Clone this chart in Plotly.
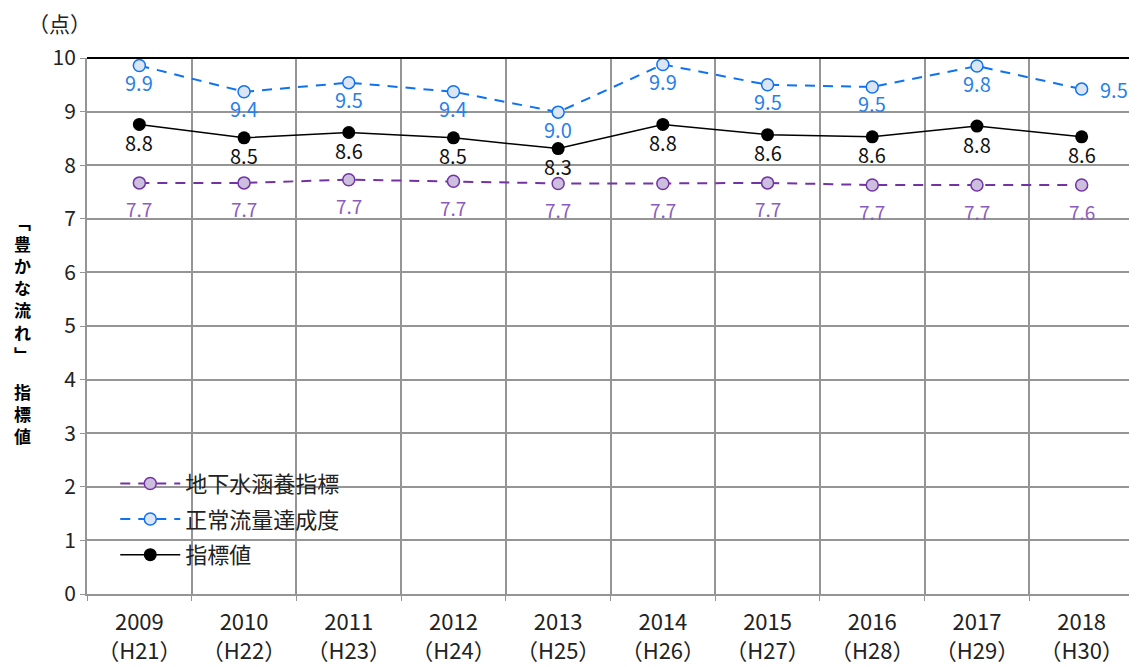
import plotly.graph_objects as go

years = ["2009", "2010", "2011", "2012", "2013", "2014", "2015", "2016", "2017", "2018"]
eras = ["H21", "H22", "H23", "H24", "H25", "H26", "H27", "H28", "H29", "H30"]
categories = [f"{y}<br>（{e}）" for y, e in zip(years, eras)]

groundwater = [7.67, 7.67, 7.73, 7.70, 7.66, 7.66, 7.67, 7.63, 7.63, 7.63]
groundwater_labels = ["7.7", "7.7", "7.7", "7.7", "7.7", "7.7", "7.7", "7.7", "7.7", "7.6"]
flow = [9.86, 9.37, 9.54, 9.37, 8.99, 9.88, 9.50, 9.46, 9.85, 9.42]
flow_labels = ["9.9", "9.4", "9.5", "9.4", "9.0", "9.9", "9.5", "9.5", "9.8", "9.5"]
index = [8.76, 8.51, 8.61, 8.51, 8.31, 8.76, 8.57, 8.53, 8.73, 8.53]
index_labels = ["8.8", "8.5", "8.6", "8.5", "8.3", "8.8", "8.6", "8.6", "8.8", "8.6"]

series_names = ["地下水涵養指標", "正常流量達成度", "指標値"]
y_title_top = "﹁豊かな流れ﹂"
y_title_bottom = "指標値"
unit_label = "（点）"

FONT = "Noto Sans CJK JP, Noto Sans, sans-serif"
PURPLE = "#7332a6"
PURPLE_TXT = "#8a5cbd"
PURPLE_FILL = "#cbbfdd"
BLUE = "#0f72f2"
BLUE_TXT = "#2a7fe8"
BLUE_FILL = "#dbe5f3"
GRID = "#959595"

# page body has an 8px margin; compensate so the plot area lands where the reference has it
PAGE_OFF = 8
W, H = 1137 - PAGE_OFF, 667 - PAGE_OFF
ML, MR, MT, MB = 87 - PAGE_OFF, 3, 58 - PAGE_OFF, 73
PLOT_H = H - MT - MB

fig = go.Figure()
fig.add_trace(go.Scatter(
    x=categories, y=groundwater, name=series_names[0], mode="lines+markers",
    line=dict(color=PURPLE, width=2, dash="10px,8px"),
    marker=dict(size=12, color=PURPLE_FILL, line=dict(color=PURPLE, width=1.5)),
    legendgroup="a",
))
fig.add_trace(go.Scatter(
    x=categories, y=flow, name=series_names[1], mode="lines+markers",
    line=dict(color=BLUE, width=2, dash="10px,8px"),
    marker=dict(size=12, color=BLUE_FILL, line=dict(color=BLUE, width=1.5)),
    legendgroup="b",
))
fig.add_trace(go.Scatter(
    x=categories, y=index, name=series_names[2], mode="lines+markers",
    line=dict(color="black", width=1.5),
    marker=dict(size=13, color="black"),
    legendgroup="c",
))

annotations = []
for i, c in enumerate(categories):
    annotations.append(dict(x=c, y=groundwater[i], text=groundwater_labels[i], showarrow=False,
                            yshift=-26, font=dict(family=FONT, size=19, color=PURPLE_TXT)))
    last = i == len(categories) - 1
    annotations.append(dict(x=c, y=flow[i], text=flow_labels[i], showarrow=False,
                            yshift=0 if last else -17, xshift=32 if last else 0,
                            font=dict(family=FONT, size=20, color=BLUE_TXT)))
    annotations.append(dict(x=c, y=index[i], text=index_labels[i], showarrow=False,
                            yshift=-18, font=dict(family=FONT, size=20, color="#111")))

annotations.append(dict(xref="paper", yref="paper", x=-0.026, y=1.066, text=unit_label,
                        xanchor="center", yanchor="middle",
                        showarrow=False, font=dict(family=FONT, size=21, color="#222")))

# vertical y title (screen px from top of figure -> paper coords)
def py(px_from_top):
    return 1 - (px_from_top - 58) / PLOT_H

title_x = -(87 - 22) / (1137 - 87 - MR)
annotations.append(dict(xref="paper", yref="paper", x=title_x, y=py(288), text="<br>".join(y_title_top),
                        xanchor="center", yanchor="middle", showarrow=False,
                        font=dict(family=FONT, size=17, color="black", weight="bold")))
annotations.append(dict(xref="paper", yref="paper", x=title_x, y=py(413), text="<br>".join(y_title_bottom),
                        xanchor="center", yanchor="middle", showarrow=False,
                        font=dict(family=FONT, size=17, color="black", weight="bold")))

fig.update_layout(
    width=W, height=H,
    margin=dict(l=ML, r=MR, t=MT, b=MB, autoexpand=False),
    paper_bgcolor="white", plot_bgcolor="white",
    font=dict(family=FONT, color="#222"),
    showlegend=True,
    legend=dict(x=0.027, y=0.245, xanchor="left", yanchor="top",
                bgcolor="rgba(0,0,0,0)", font=dict(family=FONT, size=22, color="#222"),
                tracegroupgap=4, traceorder="grouped", itemwidth=60),
    annotations=annotations,
    shapes=[
        dict(type="line", xref="paper", yref="paper", x0=0, x1=1, y0=1, y1=1,
             line=dict(color="black", width=2)),
        dict(type="line", xref="paper", yref="paper", x0=1, x1=1, y0=0, y1=1,
             line=dict(color="black", width=2)),
    ],
)
fig.update_xaxes(
    type="category", tickson="boundaries", ticks="outside", ticklen=5, tickcolor=GRID,
    showgrid=True, gridcolor=GRID, gridwidth=1.5,
    showline=True, linecolor=GRID, linewidth=2,
    tickfont=dict(family=FONT, size=22, color="#222"), ticklabelstandoff=8,
    range=[-0.5, 9.5],
)
fig.update_yaxes(
    range=[0, 10], dtick=1, ticks="outside", ticklen=5, tickcolor=GRID,
    showgrid=True, gridcolor=GRID, gridwidth=1.5,
    showline=True, linecolor=GRID, linewidth=2, zeroline=False,
    tickfont=dict(family=FONT, size=21, color="#222"),
)

fig.write_html("out.html")
